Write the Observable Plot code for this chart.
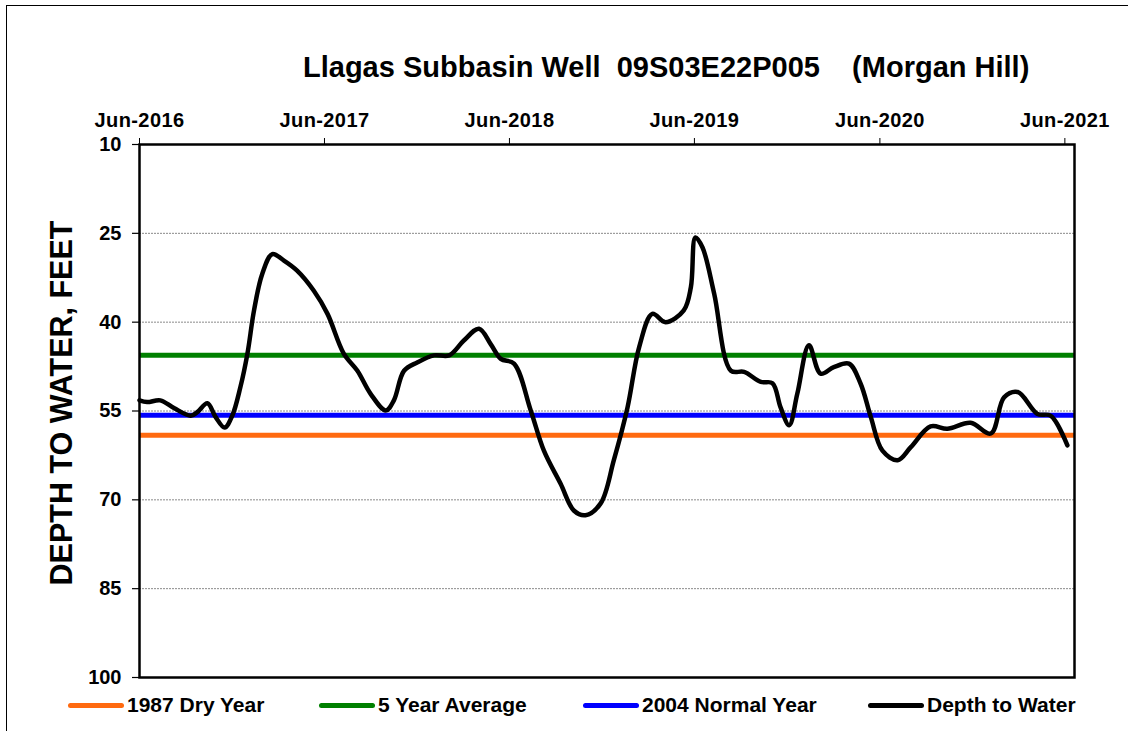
<!DOCTYPE html>
<html>
<head>
<meta charset="utf-8">
<script src="https://cdn.jsdelivr.net/npm/d3@7"></script>
<script src="https://cdn.jsdelivr.net/npm/@observablehq/plot@0.6"></script>
<style>
  html, body { margin: 0; padding: 0; background: #fff; overflow: hidden; }
  body { width: 1128px; height: 731px; position: relative; font-family: "Liberation Sans", Arial, sans-serif; }
  #frame { position: absolute; left: 6px; top: 5px; width: 1300px; height: 900px; border: 1.5px solid #000; }
  #chart { position: absolute; left: 0; top: 0; }
  #title { position: absolute; left: 303px; top: 50px; font-size: 29px; font-weight: bold; white-space: pre; line-height: 34px; color: #000; }
  #ylabel { position: absolute; left: 61px; top: 403px; transform: translate(-50%, -50%) rotate(-90deg); font-size: 30.5px; font-weight: bold; white-space: nowrap; color: #000; }
  .leg { position: absolute; top: 693px; height: 24px; display: flex; align-items: center; font-size: 21px; font-weight: bold; white-space: nowrap; }
  .sw { width: 56px; height: 5px; border-radius: 3px; margin-right: 3px; }
  #chart svg text { font-weight: bold; }
  #chart svg g[aria-label="x-axis tick label"] text { letter-spacing: 0.4px; }
</style>
</head>
<body>
<div id="frame"></div>
<div id="chart"></div>
<div id="title">Llagas Subbasin Well  09S03E22P005    (Morgan Hill)</div>
<div id="ylabel">DEPTH TO WATER, FEET</div>
<div id="legend"></div>
<script>
// ---- data ----
const dates = [
  "2016-06-01","2016-06-16","2016-07-12","2016-08-08","2016-09-10","2016-09-23","2016-10-13","2016-10-29",
  "2016-11-16","2016-12-01","2016-12-17","2016-12-31","2017-01-13","2017-01-29","2017-02-18","2017-03-13",
  "2017-04-08","2017-05-11","2017-06-07","2017-07-09","2017-08-05","2017-08-31","2017-09-30","2017-10-16",
  "2017-11-05","2017-12-01","2018-01-03","2018-02-02","2018-03-03","2018-04-02","2018-04-25","2018-05-15",
  "2018-06-10","2018-07-13","2018-08-08","2018-09-10","2018-10-06","2018-10-29","2018-11-28","2018-12-24",
  "2019-01-20","2019-02-12","2019-03-10","2019-04-05","2019-05-11","2019-05-25","2019-06-03","2019-06-17",
  "2019-07-10","2019-08-12","2019-09-07","2019-10-10","2019-11-02","2019-11-18","2019-12-05","2019-12-21",
  "2020-01-13","2020-02-05","2020-03-02","2020-04-01","2020-04-24","2020-05-14","2020-06-06","2020-07-06",
  "2020-08-01","2020-09-09","2020-10-12","2020-11-27","2021-01-06","2021-02-01","2021-02-28","2021-04-08",
  "2021-05-04","2021-06-06"
];
const depthToWater = [
  53.2, 53.5, 53.2, 54.5, 55.8, 55.2, 53.7, 56.0,
  57.8, 55.8, 51.0, 45.3, 38.0, 31.9, 28.5, 29.6,
  31.3, 34.7, 38.6, 45.3, 48.2, 52.1, 54.9, 53.2,
  48.2, 46.8, 45.6, 45.6, 43.1, 41.1, 43.7, 46.2,
  47.0, 54.9, 61.7, 67.3, 71.8, 72.6, 70.6, 63.3,
  54.4, 44.2, 38.6, 40.0, 38.0, 34.1, 25.7, 27.4,
  35.2, 48.2, 48.4, 50.1, 50.3, 54.4, 57.4, 52.1,
  43.9, 48.7, 47.6, 47.0, 50.4, 56.0, 61.7, 63.3,
  61.1, 57.6, 58.0, 57.0, 58.8, 52.7, 51.8, 55.5,
  55.8, 60.8
];
const dryYear1987 = 59.1;
const fiveYearAverage = 45.6;
const normalYear2004 = 55.7;
const xTicks = ["2016-06-01","2017-06-01","2018-06-01","2019-06-01","2020-06-01","2021-06-01"];
const yTicks = [10, 25, 40, 55, 70, 85, 100];
const gridValues = [25, 40, 55, 70, 85];
const xDomain = ["2016-06-01", "2021-06-20"];
const yDomain = [10, 100];

const legendItems = [
  {label: "1987 Dry Year", color: "#ff6a10", left: 68},
  {label: "5 Year Average", color: "#008000", left: 319},
  {label: "2004 Normal Year", color: "#0000ff", left: 583},
  {label: "Depth to Water", color: "#000000", left: 868}
];

// ---- build ----
const parse = d3.utcParse("%Y-%m-%d");
const series = dates.map((d, i) => ({date: parse(d), depth: depthToWater[i]}));
const refLines = [
  {v: dryYear1987, c: "#ff6a10"},
  {v: normalYear2004, c: "#0000ff"},
  {v: fiveYearAverage, c: "#008000"}
];

const plot = Plot.plot({
  width: 1128,
  height: 731,
  marginLeft: 139,
  marginRight: 54,
  marginTop: 144,
  marginBottom: 54,
  style: {fontFamily: "'Liberation Sans', Arial, sans-serif", fontSize: "20px", fontWeight: "bold", background: "transparent", color: "#000", overflow: "visible"},
  x: {type: "utc", domain: xDomain.map(parse)},
  y: {domain: yDomain, reverse: true},
  marks: [
    Plot.ruleY(gridValues, {stroke: "#8a8a8a", strokeWidth: 1, strokeDasharray: "2,1"}),
    Plot.ruleY(refLines, {y: "v", stroke: "c", strokeWidth: 5}),
    Plot.lineY(series, {x: "date", y: "depth", stroke: "#000", strokeWidth: 4.5, curve: "catmull-rom", strokeLinejoin: "round", strokeLinecap: "round"}),
    Plot.frame({stroke: "#000", strokeWidth: 2.5}),
    Plot.axisX({anchor: "top", ticks: xTicks.map(parse), tickFormat: d3.utcFormat("%b-%Y"), tickSize: 7, tickPadding: 11, label: null, strokeWidth: 1}),
    Plot.axisY({anchor: "left", ticks: yTicks, tickFormat: d => String(d), tickSize: 7, tickPadding: 11, label: null, strokeWidth: 1.2})
  ]
});
document.getElementById("chart").appendChild(plot);

const leg = document.getElementById("legend");
legendItems.forEach(it => {
  const el = document.createElement("div");
  el.className = "leg";
  el.style.left = it.left + "px";
  const sw = document.createElement("div");
  sw.className = "sw";
  sw.style.background = it.color;
  const tx = document.createElement("span");
  tx.textContent = it.label;
  el.appendChild(sw);
  el.appendChild(tx);
  leg.appendChild(el);
});
</script>
</body>
</html>
